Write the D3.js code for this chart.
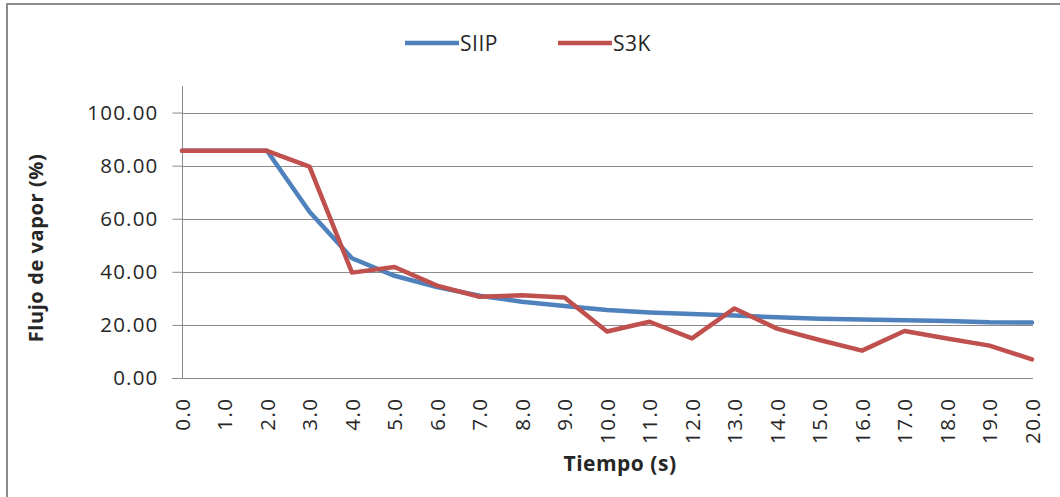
<!DOCTYPE html>
<html>
<head>
<meta charset="utf-8">
<script src="https://cdn.jsdelivr.net/npm/d3@7"></script>
<style>
  html, body { margin: 0; padding: 0; background: #fff; }
  svg { display: block; }
  text { font-family: "Open Sans", "Liberation Sans", sans-serif; fill: #262626; }
</style>
</head>
<body>
<svg id="chart" width="1060" height="497"></svg>
<script>
const categories = ["0.0","1.0","2.0","3.0","4.0","5.0","6.0","7.0","8.0","9.0","10.0","11.0","12.0","13.0","14.0","15.0","16.0","17.0","18.0","19.0","20.0"];
const siip = [85.6, 85.6, 85.6, 62.6, 45.1, 38.5, 34.3, 31.0, 28.7, 27.1, 25.6, 24.7, 24.1, 23.5, 22.9, 22.3, 22.0, 21.8, 21.5, 21.0, 20.9];
const s3k  = [85.6, 85.6, 85.6, 79.6, 39.7, 41.8, 34.8, 30.6, 31.2, 30.3, 17.5, 21.2, 14.9, 26.2, 18.6, 14.3, 10.3, 17.7, 14.9, 12.2, 7.0];
const yTicks = [0, 20, 40, 60, 80, 100];
const seriesNames = ["SIIP", "S3K"];
const seriesColors = ["#4F81BD", "#C0504D"];

const svg = d3.select("#chart");
const pLeft = 182, pRight = 1032, pTop = 86, pBottom = 378;

// outer frame
svg.append("rect").attr("x", 7).attr("y", 4).attr("width", 1070).attr("height", 510)
  .attr("fill", "none").attr("stroke", "#8c8c8c").attr("stroke-width", 2);

const x = d3.scalePoint().domain(categories).range([pLeft, pRight]);
const y = d3.scaleLinear().domain([0, 110]).range([pBottom, pTop]);

// gridlines
svg.append("g").selectAll("line").data(yTicks.filter(d => d > 0)).join("line")
  .attr("x1", pLeft).attr("x2", pRight + 1)
  .attr("y1", d => Math.round(y(d)) + 0.5).attr("y2", d => Math.round(y(d)) + 0.5)
  .attr("stroke", "#8a8a8a").attr("stroke-width", 1);

// y axis
const yAxis = d3.axisLeft(y).tickValues(yTicks).tickFormat(d3.format(".2f")).tickSize(10).tickPadding(14);
const gy = svg.append("g").attr("transform", `translate(${pLeft + 0.5},0)`).call(yAxis);
gy.select(".domain").attr("stroke", "#8a8a8a").attr("d", `M0,${pTop}V${pBottom}`);
gy.selectAll(".tick line").attr("stroke", "#8a8a8a");
gy.selectAll(".tick text").attr("font-size", 20.5).attr("letter-spacing", 1.2).attr("fill", "#262626")
  .attr("font-family", "Open Sans, Liberation Sans, sans-serif");

// x axis
const xAxis = d3.axisBottom(x).tickSize(0).tickPadding(0);
const gx = svg.append("g").attr("transform", `translate(0,${pBottom + 0.5})`).call(xAxis);
gx.select(".domain").attr("stroke", "#8a8a8a").attr("d", `M${pLeft - 10},0H${pRight + 1}`);
gx.selectAll(".tick text")
  .attr("font-size", 20.5).attr("letter-spacing", 1.5).attr("fill", "#262626")
  .attr("font-family", "Open Sans, Liberation Sans, sans-serif")
  .attr("text-anchor", "end").attr("dy", "0.36em").attr("y", 0).attr("x", -19)
  .attr("transform", "rotate(-90)");

// lines
const line = d3.line().x((d, i) => x(categories[i])).y(d => y(d));
[siip, s3k].forEach((vals, k) => {
  svg.append("path").datum(vals).attr("d", line)
    .attr("fill", "none").attr("stroke", seriesColors[k]).attr("stroke-width", 4.5)
    .attr("stroke-linejoin", "round").attr("stroke-linecap", "round");
});

// legend
const legendX = [405, 558];
seriesNames.forEach((name, k) => {
  svg.append("line").attr("x1", legendX[k]).attr("x2", legendX[k] + 54)
    .attr("y1", 43).attr("y2", 43).attr("stroke", seriesColors[k]).attr("stroke-width", 4.5);
  svg.append("text").attr("x", legendX[k] + 55).attr("y", 43).attr("dy", "0.36em")
    .attr("font-size", 21).attr("letter-spacing", 0.5).text(name);
});

// axis titles
svg.append("text").attr("transform", "translate(43,248) rotate(-90)")
  .attr("text-anchor", "middle").attr("font-weight", "bold").attr("font-size", 20)
  .attr("letter-spacing", 0.6).text("Flujo de vapor (%)");
svg.append("text").attr("x", 620).attr("y", 471)
  .attr("text-anchor", "middle").attr("font-weight", "bold").attr("font-size", 21)
  .attr("letter-spacing", 0.5).text("Tiempo (s)");
</script>
</body>
</html>
